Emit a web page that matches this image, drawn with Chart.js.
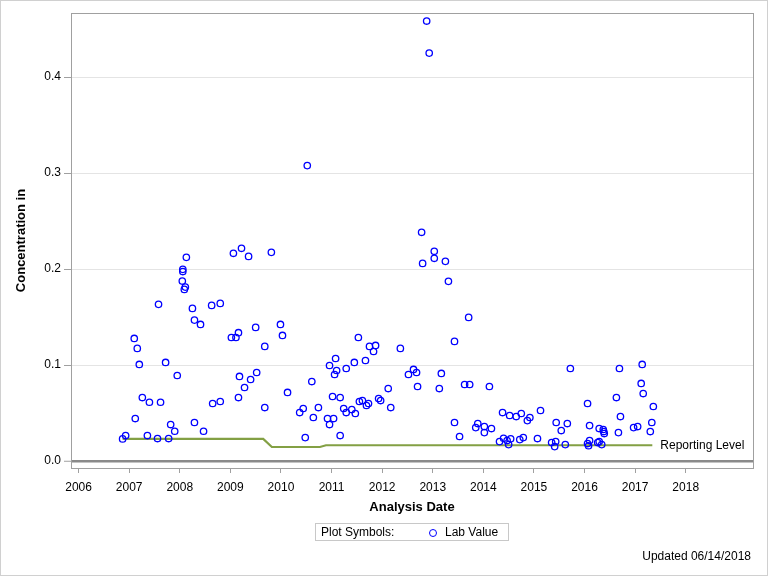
<!DOCTYPE html>
<html>
<head>
<meta charset="utf-8">
<script src="https://cdn.jsdelivr.net/npm/chart.js@4.4.1/dist/chart.umd.min.js"></script>
<style>
  body { margin: 0; background: #fff; font-family: "Liberation Sans", Arial, sans-serif; }
  #wrap { position: relative; width: 768px; height: 576px; }
  #wrap canvas { position: absolute; left: 0; top: 0; }
  #frame { position: absolute; left: 0; top: 0; width: 768px; height: 576px; box-sizing: border-box; border: 1px solid #d0d0d0; pointer-events: none; }
  #legend { position: absolute; left: 315px; top: 523px; width: 194px; height: 18px; box-sizing: border-box; border: 1px solid #c8c8c8; font-size: 12px; color: #000; line-height: 16px; }
  #legend .lbl { position: absolute; left: 5px; top: 0; }
  #legend .sym { position: absolute; left: 113px; top: 5px; width: 6px; height: 6px; border: 1px solid #0000ff; border-radius: 50%; }
  #legend .name { position: absolute; left: 129px; top: 0; }
  #updated { position: absolute; right: 17px; top: 549px; font-size: 12px; color: #000; }
</style>
</head>
<body>
<div id="wrap">
  <canvas id="chart" width="768" height="576"></canvas>
  <div id="legend"><span class="lbl">Plot Symbols:</span><span class="sym"></span><span class="name">Lab Value</span></div>
  <div id="updated">Updated 06/14/2018</div>
  <div id="frame"></div>
</div>
<script>
// Lab values (decimal year, concentration)
const labDates = [
  2006.87, 2006.93, 2007.10, 2007.16, 2007.20, 2007.12, 2007.26, 2007.36, 2007.40, 2007.56,
  2007.58, 2007.62, 2007.72, 2007.78, 2007.82, 2007.90, 2007.95, 2008.06, 2008.06, 2008.05,
  2008.11, 2008.09, 2008.13, 2008.25, 2008.29, 2008.29, 2008.41, 2008.47, 2008.63, 2008.65,
  2008.80, 2008.80, 2009.02, 2009.06, 2009.11, 2009.16, 2009.16, 2009.18, 2009.22, 2009.28,
  2009.36, 2009.40, 2009.50, 2009.52, 2009.68, 2009.68, 2009.81, 2009.99, 2010.03, 2010.13,
  2010.37, 2010.44, 2010.48, 2010.52, 2010.61, 2010.64, 2010.74, 2010.92, 2010.96, 2010.96,
  2011.02, 2011.04, 2011.06, 2011.08, 2011.10, 2011.17, 2011.17, 2011.24, 2011.29, 2011.29,
  2011.40, 2011.45, 2011.47, 2011.53, 2011.55, 2011.61, 2011.67, 2011.69, 2011.73, 2011.75,
  2011.83, 2011.87, 2011.93, 2011.97, 2012.12, 2012.17, 2012.36, 2012.52, 2012.62, 2012.68,
  2012.70, 2012.78, 2012.80, 2012.88, 2012.93, 2013.03, 2013.03, 2013.13, 2013.17, 2013.25,
  2013.31, 2013.43, 2013.43, 2013.53, 2013.63, 2013.71, 2013.73, 2013.85, 2013.89, 2014.02,
  2014.02, 2014.12, 2014.16, 2014.32, 2014.38, 2014.40, 2014.47, 2014.50, 2014.52, 2014.54,
  2014.65, 2014.72, 2014.75, 2014.79, 2014.87, 2014.92, 2015.07, 2015.13, 2015.35, 2015.41,
  2015.43, 2015.44, 2015.54, 2015.62, 2015.66, 2015.72, 2016.06, 2016.06, 2016.08, 2016.10,
  2016.10, 2016.26, 2016.29, 2016.29, 2016.34, 2016.37, 2016.38, 2016.39, 2016.63, 2016.67,
  2016.69, 2016.71, 2016.97, 2017.05, 2017.12, 2017.14, 2017.16, 2017.30, 2017.33, 2017.36
];
const labValues = [
  0.0230, 0.0265, 0.1277, 0.1173, 0.1006, 0.0442, 0.0661, 0.0265, 0.0612, 0.0234,
  0.1632, 0.0612, 0.1027, 0.0234, 0.0380, 0.0310, 0.0891, 0.1997, 0.1974, 0.1875,
  0.1812, 0.1788, 0.2122, 0.1590, 0.1468, 0.0401, 0.1423, 0.0310, 0.1621, 0.0599,
  0.1642, 0.0620, 0.1287, 0.2164, 0.1287, 0.1337, 0.0661, 0.0881, 0.2216, 0.0766,
  0.2132, 0.0849, 0.1392, 0.0922, 0.1194, 0.0557, 0.2174, 0.1423, 0.1308, 0.0714,
  0.0505, 0.0547, 0.0244, 0.3078, 0.0828, 0.0453, 0.0557, 0.0442, 0.0995, 0.0380,
  0.0672, 0.0442, 0.0901, 0.1068, 0.0943, 0.0661, 0.0265, 0.0547, 0.0964, 0.0505,
  0.0536, 0.1027, 0.0495, 0.1287, 0.0620, 0.0630, 0.1047, 0.0578, 0.0599, 0.1194,
  0.1141, 0.1204, 0.0651, 0.0630, 0.0755, 0.0557, 0.1173, 0.0901, 0.0954, 0.0922,
  0.0776, 0.2383, 0.2059, 0.4584, 0.4250, 0.2185, 0.2112, 0.0755, 0.0912, 0.2080,
  0.1872, 0.1246, 0.0401, 0.0255, 0.0797, 0.1496, 0.0797, 0.0348, 0.0390, 0.0359,
  0.0296, 0.0776, 0.0338, 0.0202, 0.0505, 0.0237, 0.0213, 0.0171, 0.0474, 0.0232,
  0.0463, 0.0223, 0.0495, 0.0244, 0.0421, 0.0453, 0.0234, 0.0526, 0.0192, 0.0150,
  0.0202, 0.0401, 0.0317, 0.0171, 0.0390, 0.0964, 0.0599, 0.0182, 0.0159, 0.0369,
  0.0213, 0.0192, 0.0202, 0.0338, 0.0171, 0.0328, 0.0307, 0.0286, 0.0661, 0.0296,
  0.0964, 0.0463, 0.0348, 0.0359, 0.0808, 0.1006, 0.0703, 0.0307, 0.0401, 0.0568
];

// Reporting level step line
const rlDates = [2006.87, 2009.65, 2009.82, 2010.77, 2010.89, 2017.34];
const rlValues = [0.0230, 0.0230, 0.0146, 0.0146, 0.0164, 0.0164];

const yTicks = [0.0, 0.1, 0.2, 0.3, 0.4];
const xTicks = [2006, 2007, 2008, 2009, 2010, 2011, 2012, 2013, 2014, 2015, 2016, 2017, 2018];

const FONT = '"Liberation Sans", Arial, sans-serif';

// frame round the plot area + "Reporting Level" text
const framePlugin = {
  id: 'frame',
  afterDraw(chart) {
    const { ctx, chartArea: a, scales } = chart;
    ctx.save();
    ctx.strokeStyle = '#a0a0a0';
    ctx.lineWidth = 1;
    ctx.strokeRect(Math.round(a.left) + 0.5, Math.round(a.top) + 0.5, Math.round(a.right - a.left), Math.round(a.bottom - a.top));
    const lx = scales.x.getPixelForValue(rlDates[rlDates.length - 1]) + 8;
    const ly = scales.y.getPixelForValue(rlValues[rlValues.length - 1]);
    ctx.fillStyle = '#000';
    ctx.font = '12px ' + FONT;
    ctx.textBaseline = 'middle';
    ctx.textAlign = 'left';
    ctx.fillText('Reporting Level', lx, ly);
    ctx.restore();
  }
};

new Chart(document.getElementById('chart'), {
  type: 'scatter',
  data: {
    datasets: [
      {
        label: 'Reporting Level',
        type: 'line',
        data: rlDates.map((d, i) => ({ x: d, y: rlValues[i] })),
        borderColor: '#83a044',
        borderWidth: 2.2,
        pointRadius: 0,
        fill: false,
        tension: 0,
        order: 2
      },
      {
        label: 'Lab Value',
        data: labDates.map((d, i) => ({ x: d, y: labValues[i] })),
        pointStyle: 'circle',
        pointRadius: 3.2,
        pointBorderWidth: 1.3,
        pointBorderColor: '#0000ff',
        pointBackgroundColor: 'rgba(0,0,0,0)',
        order: 1
      }
    ]
  },
  options: {
    responsive: false,
    animation: false,
    layout: { padding: { left: 0, top: 13, right: 15, bottom: 0 } },
    plugins: { legend: { display: false }, tooltip: { enabled: false } },
    scales: {
      x: {
        type: 'linear',
        min: 2005.85,
        max: 2019.33,
        afterBuildTicks: s => { s.ticks = xTicks.map(v => ({ value: v })); },
        afterFit: s => { s.height = 108; },
        border: { display: false },
        grid: { drawOnChartArea: false, tickLength: 5, tickColor: '#a0a0a0', tickWidth: 1 },
        ticks: {
          color: '#000',
          padding: 7,
          maxRotation: 0,
          autoSkip: false,
          font: { family: FONT, size: 12 },
          callback: v => String(v)
        },
        title: {
          display: true,
          text: 'Analysis Date',
          color: '#000',
          font: { family: FONT, size: 13, weight: 'bold' },
          padding: { top: 0, bottom: 61 }
        }
      },
      y: {
        min: -0.0073,
        max: 0.4668,
        afterBuildTicks: s => { s.ticks = yTicks.map(v => ({ value: v })); },
        afterFit: s => { s.width = 71; },
        border: { display: false },
        grid: {
          color: c => (c.tick && c.tick.value === 0 ? '#8a8a8a' : '#e4e4e4'),
          lineWidth: c => (c.tick && c.tick.value === 0 ? 2.5 : 1),
          tickLength: 7,
          tickColor: '#a0a0a0',
          tickWidth: 1
        },
        ticks: {
          color: '#000',
          padding: 3,
          font: { family: FONT, size: 12 },
          callback: v => v.toFixed(1)
        },
        title: {
          display: true,
          text: 'Concentration in',
          color: '#000',
          font: { family: FONT, size: 13, weight: 'bold' },
          padding: { top: 14, bottom: 0 }
        }
      }
    }
  },
  plugins: [framePlugin]
});
</script>
</body>
</html>
